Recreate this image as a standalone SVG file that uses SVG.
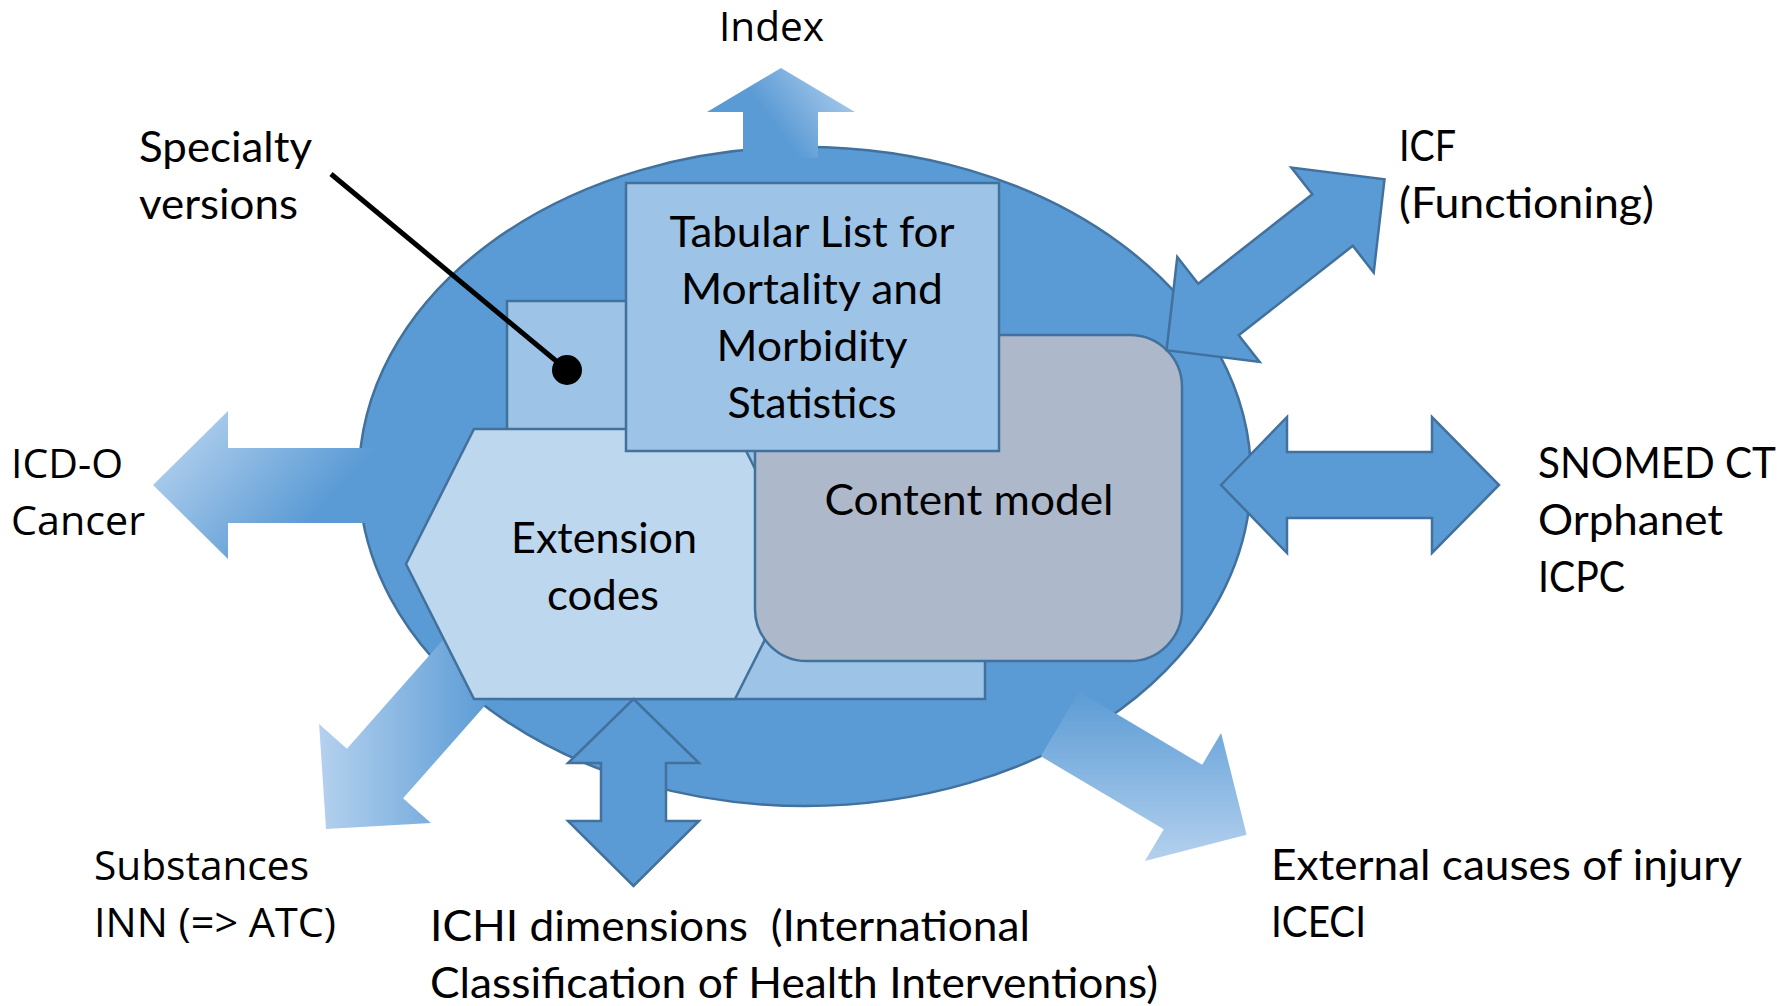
<svg xmlns="http://www.w3.org/2000/svg" width="1792" height="1006" viewBox="0 0 1792 1006">
<style>
.sh{stroke:#41719c;stroke-width:2.5;stroke-linejoin:miter}
.mid{fill:#5b9bd5}
.lt{fill:#9dc3e6}
.vlt{fill:#bdd7ee}
.gray{fill:#adb9ca}
.c{font-family:Lato,"Liberation Sans",sans-serif;font-size:42px;fill:#000}
.w{font-family:"Open Sans","Liberation Sans",sans-serif;font-size:41px;fill:#000}
.m{text-anchor:middle}
</style>
<defs>
<linearGradient id="gIdx" gradientUnits="userSpaceOnUse" x1="745" y1="150" x2="850" y2="72">
<stop offset="0.3" stop-color="#5b9bd5"/><stop offset="1" stop-color="#b4d1ee"/></linearGradient>
<linearGradient id="gIcd" gradientUnits="userSpaceOnUse" x1="180" y1="420" x2="300" y2="530">
<stop offset="0" stop-color="#b4d1ee"/><stop offset="1" stop-color="#5b9bd5"/></linearGradient>
<linearGradient id="gSub" gradientUnits="userSpaceOnUse" x1="320" y1="0" x2="490" y2="0">
<stop offset="0" stop-color="#b4d1ee"/><stop offset="1" stop-color="#5b9bd5"/></linearGradient>
<linearGradient id="gExt" gradientUnits="userSpaceOnUse" x1="0" y1="690" x2="0" y2="865">
<stop offset="0" stop-color="#5b9bd5"/><stop offset="1" stop-color="#b6d2ee"/></linearGradient>
</defs>

<g id="ellipse-main">
<ellipse class="sh mid" cx="805" cy="476.5" rx="446" ry="329.5"/>
</g>

<g id="connectors">
<polygon id="arrow-index" fill="url(#gIdx)" points="781,68 855,112 818,112 818,158 743,158 743,112 707,112"/>
<polygon id="arrow-icdo" fill="url(#gIcd)" points="153,485 228,411 228,448 395,448 395,523 228,523 228,559"/>
<polygon id="arrow-substances" fill="url(#gSub)" points="535.1,648.8 403.1,798.3 430.9,823 326,829 319.1,724 346.9,748.7 478.9,599.2"/>
<polygon id="arrow-external" fill="url(#gExt)" points="1079.2,691.7 1202.2,764.8 1221.1,732.9 1246.6,834.8 1144.9,861.1 1163.8,829.3 1040.8,756.3"/>
<polygon id="arrow-snomed" class="sh mid" points="1221,485 1287,417 1287,452 1432,452 1432,417 1499,485 1432,553 1432,518 1287,518 1287,553"/>
</g>

<g id="node-specialty-rect">
<rect class="sh lt" x="507" y="301" width="478" height="398"/>
</g>
<g id="node-extension">
<polygon class="sh vlt" points="406,564 474,429 735,429 803,564 735,699 474,699"/>
<text class="c m" x="604" y="553" textLength="186" lengthAdjust="spacingAndGlyphs">Extension</text>
<text class="c m" x="603" y="610" textLength="112" lengthAdjust="spacingAndGlyphs">codes</text>
</g>
<g id="node-content-model">
<rect class="sh gray" x="755" y="335" width="427" height="326" rx="52" ry="52"/>
<text class="c m" x="969" y="515" textLength="289" lengthAdjust="spacingAndGlyphs">Content model</text>
</g>
<g id="node-tabular">
<rect class="sh lt" x="626" y="183" width="373" height="268"/>
<text class="c m" x="812" y="247" textLength="285" lengthAdjust="spacingAndGlyphs">Tabular List for</text>
<text class="c m" x="812" y="304" textLength="262" lengthAdjust="spacingAndGlyphs">Mortality and</text>
<text class="c m" x="812" y="361" textLength="191" lengthAdjust="spacingAndGlyphs">Morbidity</text>
<text class="c m" x="812" y="418" textLength="169" lengthAdjust="spacingAndGlyphs">Statistics</text>
</g>

<g id="connectors-top">
<polygon id="arrow-icf" class="sh mid" transform="translate(1275.5,264.75) rotate(-38.1)" points="-138.5,0 -72.5,-66.7 -72.5,-32.8 72.5,-32.8 72.5,-66.7 138.5,0 72.5,66.7 72.5,32.8 -72.5,32.8 -72.5,66.7"/>
<polygon id="arrow-ichi" class="sh mid" points="633.5,699 699,763 666,763 666,821 699,821 633.5,886 568,821 601,821 601,763 568,763"/>
<line id="pointer-specialty" x1="331" y1="174" x2="567" y2="370" stroke="#000" stroke-width="5"/>
<circle cx="567" cy="370" r="15" fill="#000"/>
</g>

<g id="label-index"><text class="w" x="719" y="41" textLength="105" lengthAdjust="spacingAndGlyphs">Index</text></g>
<g id="label-specialty">
<text class="c" x="139" y="162" textLength="173" lengthAdjust="spacingAndGlyphs">Specialty</text>
<text class="c" x="139" y="219" textLength="159" lengthAdjust="spacingAndGlyphs">versions</text>
</g>
<g id="label-icf">
<text class="c" x="1399" y="161" textLength="57" lengthAdjust="spacingAndGlyphs">ICF</text>
<text class="c" x="1399" y="218" textLength="255" lengthAdjust="spacingAndGlyphs">(Functioning)</text>
</g>
<g id="label-icdo">
<text class="w" x="11" y="478" textLength="112" lengthAdjust="spacingAndGlyphs">ICD-O</text>
<text class="w" x="11" y="535" textLength="134" lengthAdjust="spacingAndGlyphs">Cancer</text>
</g>
<g id="label-snomed">
<text class="c" x="1538" y="478" textLength="238" lengthAdjust="spacingAndGlyphs">SNOMED CT</text>
<text class="c" x="1538" y="535" textLength="185" lengthAdjust="spacingAndGlyphs">Orphanet</text>
<text class="c" x="1538" y="592" textLength="87" lengthAdjust="spacingAndGlyphs">ICPC</text>
</g>
<g id="label-substances">
<text class="w" x="94" y="880" textLength="215" lengthAdjust="spacingAndGlyphs">Substances</text>
<text class="w" x="94" y="937" textLength="242" lengthAdjust="spacingAndGlyphs">INN (=&gt; ATC)</text>
</g>
<g id="label-ichi">
<text class="c" x="430" y="941" textLength="600" lengthAdjust="spacingAndGlyphs" xml:space="preserve">ICHI dimensions  (International</text>
<text class="c" x="430" y="998" textLength="728" lengthAdjust="spacingAndGlyphs">Classification of Health Interventions)</text>
</g>
<g id="label-external">
<text class="c" x="1271" y="880" textLength="471" lengthAdjust="spacingAndGlyphs">External causes of injury</text>
<text class="c" x="1271" y="937" textLength="95" lengthAdjust="spacingAndGlyphs">ICECI</text>
</g>
</svg>
